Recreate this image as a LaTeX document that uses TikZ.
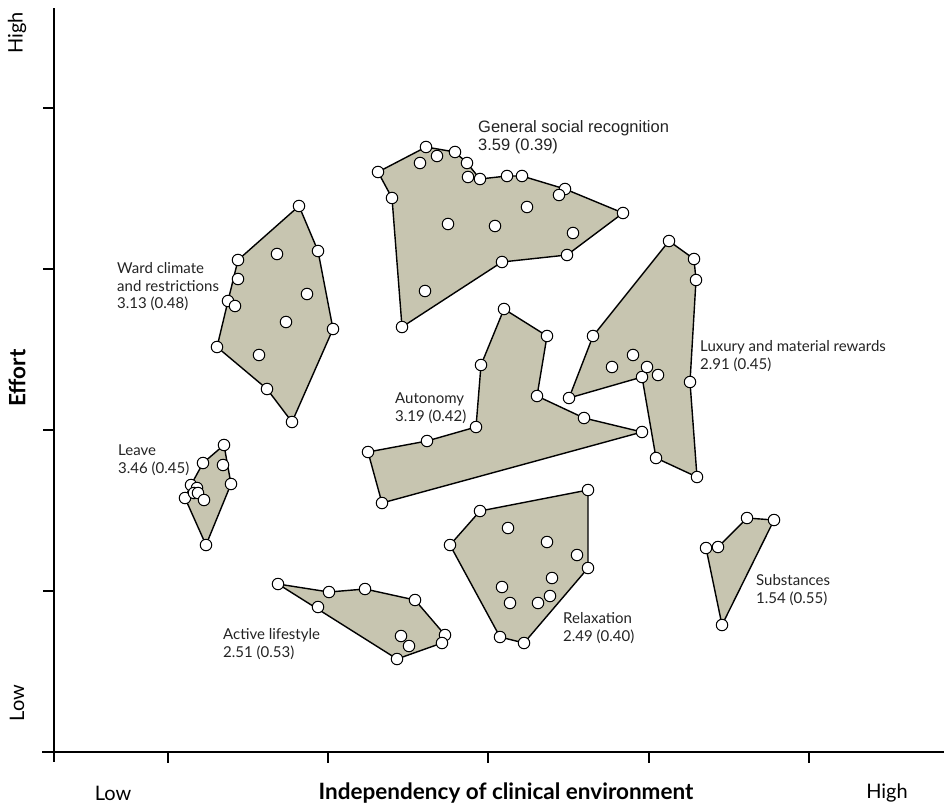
\documentclass[tikz,border=0pt]{standalone}
\usepackage{fontspec}
\setmainfont{Lato}
\newfontfamily\arialfont{Liberation Sans}
\usetikzlibrary{backgrounds}

\definecolor{clusterfill}{RGB}{199,197,176}
\definecolor{labeltext}{RGB}{35,35,35}

\tikzset{%
  every point/.style={
    circle,
    draw,
    fill=white,
    line width=1pt,
    minimum size=11.5pt,
    inner sep=0pt
  },
  cluster/.style={
    fill=clusterfill,
    draw=black,
    line width=1.4pt,
    line join=round
  },
  cluster label/.style={
    align=left,
    anchor=west,
    inner sep=0pt,
    text=labeltext,
    font=\fontsize{15}{17.5}\selectfont
  },
  axis line/.style={
    line width=1.6pt
  },
}

\begin{document}
\begin{tikzpicture}[x=1pt, y=-1pt]

\useasboundingbox (0,0) rectangle (944,809);

% Achsen
\draw [axis line] (54,8) -- (54,762);
\draw [axis line] (42,752) -- (944,752);

\foreach \y in {108,269,430,591}
  \draw [axis line] (43,\y) -- (54,\y);

\foreach \x in {168,328,488,649,809}
  \draw [axis line] (\x,752) -- (\x,763);


% Punkte
\foreach \x/\y [count=\i] in {378/172,426/147,455/152,467/163,480/179,507/176,522/176,565/189,623/213,567/255,502/262,402/327,392/198}
  \node [every point/.try] (gsr-\i) at (\x,\y) {};
\foreach \x/\y [count=\i] in {420/163,437/156,468/177,559/195,527/207,448/224,495/226,573/233,425/291}
  \node [every point/.try] (gsr-in-\i) at (\x,\y) {};

\foreach \x/\y [count=\i] in {299/206,318/251,333/329,292/422,267/389,217/347,228/301,238/260}
  \node [every point/.try] (ward-\i) at (\x,\y) {};
\foreach \x/\y [count=\i] in {277/254,238/279,235/306,307/294,286/322,259/355}
  \node [every point/.try] (ward-in-\i) at (\x,\y) {};

\foreach \x/\y [count=\i] in {504/309,547/336,537/396,584/418,642/432,382/503,368/452,427/441,476/427,481/365}
  \node [every point/.try] (auto-\i) at (\x,\y) {};

\foreach \x/\y [count=\i] in {669/241,694/259,696/280,690/382,697/477,656/458,642/377,569/398,593/336}
  \node [every point/.try] (lux-\i) at (\x,\y) {};
\foreach \x/\y [count=\i] in {633/355,612/367,647/367,658/375}
  \node [every point/.try] (lux-in-\i) at (\x,\y) {};

\foreach \x/\y [count=\i] in {224/445,231/484,206/545,185/498,191/485,203/463}
  \node [every point/.try] (leave-\i) at (\x,\y) {};
\foreach \x/\y [count=\i] in {223/465,197/488,194/493,198/493,204/500}
  \node [every point/.try] (leave-in-\i) at (\x,\y) {};

\foreach \x/\y [count=\i] in {278/584,329/592,365/589,415/600,445/635,442/643,397/659}
  \node [every point/.try] (active-\i) at (\x,\y) {};
\foreach \x/\y [count=\i] in {318/607,401/636,409/646}
  \node [every point/.try] (active-in-\i) at (\x,\y) {};

\foreach \x/\y [count=\i] in {480/511,588/490,588/568,524/643,500/637,450/545}
  \node [every point/.try] (relax-\i) at (\x,\y) {};
\foreach \x/\y [count=\i] in {508/528,547/542,577/555,552/578,502/587,510/603,538/603,550/596}
  \node [every point/.try] (relax-in-\i) at (\x,\y) {};

\foreach \x/\y [count=\i] in {747/518,774/520,722/625,706/548,718/547}
  \node [every point/.try] (subst-\i) at (\x,\y) {};


% Cluster-Flaechen
\begin{pgfonlayer}{background}
\filldraw [cluster] (gsr-1.center) \foreach \i in {2,...,13} {-- (gsr-\i.center)} -- cycle;
\filldraw [cluster] (ward-1.center) \foreach \i in {2,...,8} {-- (ward-\i.center)} -- cycle;
\filldraw [cluster] (auto-1.center) \foreach \i in {2,...,10} {-- (auto-\i.center)} -- cycle;
\filldraw [cluster] (lux-1.center) \foreach \i in {2,...,9} {-- (lux-\i.center)} -- cycle;
\filldraw [cluster] (leave-1.center) \foreach \i in {2,...,6} {-- (leave-\i.center)} -- cycle;
\filldraw [cluster] (active-1.center) \foreach \i in {2,...,7} {-- (active-\i.center)} -- cycle;
\filldraw [cluster] (relax-1.center) \foreach \i in {2,...,6} {-- (relax-\i.center)} -- cycle;
\filldraw [cluster] (subst-1.center) \foreach \i in {2,...,5} {-- (subst-\i.center)} -- cycle;
\end{pgfonlayer}


% Cluster Beschriftungen
\node [cluster label, font=\arialfont\fontsize{16.5}{18}\selectfont] (gsr-label) at (478,137)
  {General social recognition \\ 3.59 (0.39)};
\node [cluster label] (ward-label) at (117,287) {Ward climate \\ and restrictions \\ 3.13 (0.48)};
\node [cluster label] (lux-label) at (700,356) {Luxury and material rewards \\ 2.91 (0.45)};
\node [cluster label] (auto-label) at (395,408) {Autonomy \\ 3.19 (0.42)};
\node [cluster label] (leave-label) at (118,460) {Leave \\ 3.46 (0.45)};
\node [cluster label] (subst-label) at (756,590) {Substances \\ 1.54 (0.55)};
\node [cluster label] (active-label) at (223,644) {Active lifestyle \\ 2.51 (0.53)};
\node [cluster label] (relax-label) at (563,628) {Relaxation \\ 2.49 (0.40)};


% Achsen Beschriftung
\node [font=\fontsize{20}{22}\selectfont] (x-low) at (113,793) {Low};
\node [font=\bfseries\fontsize{22.5}{24}\selectfont] (x-title) at (506,793) {Independency of clinical environment};
\node [font=\fontsize{20}{22}\selectfont] (x-high) at (887,793) {High};

\node [font=\fontsize{20}{22}\selectfont, rotate=90] (y-high) at (17,33) {High};
\node [font=\bfseries\fontsize{22.5}{24}\selectfont, rotate=90] (y-title) at (17,378) {Effort};
\node [font=\fontsize{20}{22}\selectfont, rotate=90] (y-low) at (17,703) {Low};

\end{tikzpicture}
\end{document}
